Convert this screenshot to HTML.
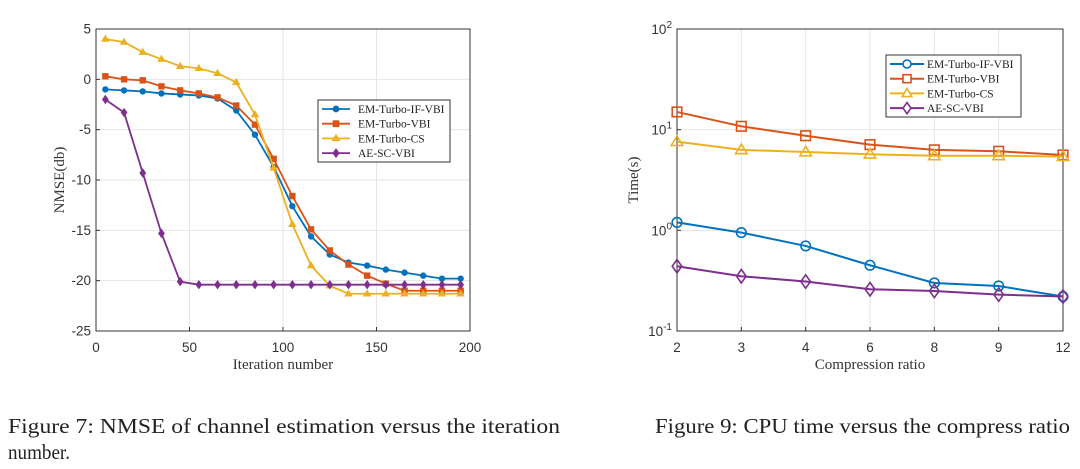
<!DOCTYPE html>
<html><head><meta charset="utf-8"><style>
html,body{margin:0;padding:0;background:#fff;}
svg{display:block;}
</style></head><body>
<svg id="root" width="1080" height="469" viewBox="0 0 1080 469" xmlns="http://www.w3.org/2000/svg">
<rect width="1080" height="469" fill="#fff"/>
<g id="left"></g>
<g id="right"></g>
<text x="8" y="433" font-family="Liberation Serif, serif" font-size="21" fill="#222" textLength="552" lengthAdjust="spacingAndGlyphs">Figure 7: NMSE of channel estimation versus the iteration</text>
<text x="8" y="459" font-family="Liberation Serif, serif" font-size="21" fill="#222" textLength="62" lengthAdjust="spacingAndGlyphs">number.</text>
<text x="655" y="433" font-family="Liberation Serif, serif" font-size="21" fill="#222" textLength="415" lengthAdjust="spacingAndGlyphs">Figure 9: CPU time versus the compress ratio</text>
</svg>
<script>
const iterX=[5,15,25,35,45,55,65,75,85,95,105,115,125,135,145,155,165,175,185,195];
const nmseIF=[-1,-1.1,-1.2,-1.4,-1.5,-1.6,-1.9,-3.1,-5.5,-8.7,-12.6,-15.6,-17.4,-18.2,-18.5,-18.9,-19.2,-19.5,-19.8,-19.8];
const nmseVBI=[0.3,0,-0.1,-0.7,-1.1,-1.4,-1.8,-2.6,-4.5,-7.9,-11.6,-14.9,-17,-18.4,-19.5,-20.3,-21,-21,-21,-21];
const nmseCS=[4,3.7,2.7,2,1.3,1.1,0.6,-0.3,-3.5,-8.8,-14.4,-18.5,-20.5,-21.3,-21.3,-21.3,-21.3,-21.3,-21.3,-21.3];
const nmseAE=[-2,-3.3,-9.3,-15.3,-20.1,-20.4,-20.4,-20.4,-20.4,-20.4,-20.4,-20.4,-20.4,-20.4,-20.4,-20.4,-20.4,-20.4,-20.4,-20.4];
const leftXTicks=[0,50,100,150,200];
const leftYTicks=[5,0,-5,-10,-15,-20,-25];
const ratioCats=["2","3","4","6","8","9","12"];
const timeIF=[1.2,0.95,0.7,0.45,0.3,0.28,0.22];
const timeVBI=[15,10.8,8.7,7.1,6.3,6.1,5.6];
const timeCS=[7.6,6.3,6.0,5.7,5.5,5.5,5.4];
const timeAE=[0.44,0.35,0.31,0.26,0.25,0.23,0.22];
const rightYTicks=[-1,0,1,2];
const seriesNames=["EM-Turbo-IF-VBI","EM-Turbo-VBI","EM-Turbo-CS","AE-SC-VBI"];
const colors=["#0072BD","#D95319","#EDB120","#7E2F8E"];

const NS="http://www.w3.org/2000/svg";
function mk(parent,tag,attrs){const e=document.createElementNS(NS,tag);for(const k in attrs)e.setAttribute(k,attrs[k]);parent.appendChild(e);return e;}
function marker(g,type,x,y,c,s,fillc){
  let e;
  if(type==="o") e=mk(g,"circle",{cx:x,cy:y,r:s,fill:fillc,stroke:c,"stroke-width":1.6});
  else if(type==="s") e=mk(g,"rect",{x:x-s,y:y-s,width:2*s,height:2*s,fill:fillc,stroke:c,"stroke-width":1.6});
  else if(type==="^") e=mk(g,"polygon",{points:`${x},${y-s*1.2} ${x-s*1.2},${y+s*0.8} ${x+s*1.2},${y+s*0.8}`,fill:fillc,stroke:c,"stroke-width":1.6});
  else e=mk(g,"polygon",{points:`${x},${y-s*1.4} ${x+s},${y} ${x},${y+s*1.4} ${x-s},${y}`,fill:fillc,stroke:c,"stroke-width":1.6});
  return e;
}
const types=["o","s","^","d"];

// LEFT
(function(){
  const g=document.getElementById("left");
  const L=96,R=470,T=29,B=331;
  const xs=v=>L+(v-0)/200*(R-L);
  const ys=v=>T+(5-v)/30*(B-T);
  mk(g,"rect",{x:L,y:T,width:R-L,height:B-T,fill:"#fff"});
  leftXTicks.forEach(t=>{const l=mk(g,"line",{x1:xs(t),x2:xs(t),y1:T,y2:B,stroke:"#e6e6e6"});
    const tx=mk(g,"text",{x:xs(t),y:352,"text-anchor":"middle","font-family":"Liberation Sans, sans-serif","font-size":13.5,fill:"#333"});tx.textContent=t;
    
    mk(g,"line",{x1:xs(t),x2:xs(t),y1:B,y2:B-4,stroke:"#333"});});
  leftYTicks.forEach(t=>{const l=mk(g,"line",{x1:L,x2:R,y1:ys(t),y2:ys(t),stroke:"#e6e6e6"});
    const tx=mk(g,"text",{x:L-5,y:ys(t)+4.5,"text-anchor":"end","font-family":"Liberation Sans, sans-serif","font-size":13.5,fill:"#333"});tx.textContent=t;
    
    mk(g,"line",{x1:L,x2:L+4,y1:ys(t),y2:ys(t),stroke:"#333"});});
  const ax=mk(g,"rect",{x:L,y:T,width:R-L,height:B-T,fill:"none",stroke:"#333","stroke-width":1});
  
  const xt=mk(g,"text",{x:(L+R)/2,y:369,"text-anchor":"middle","font-family":"Liberation Serif, serif","font-size":15,fill:"#333"});xt.textContent="Iteration number";
  
  const yt=mk(g,"text",{x:0,y:0,transform:`translate(64,${(T+B)/2}) rotate(-90)`,"text-anchor":"middle","font-family":"Liberation Serif, serif","font-size":15,fill:"#333"});yt.textContent="NMSE(db)";
  
  [nmseIF,nmseVBI,nmseCS,nmseAE].forEach((arr,i)=>{
    const sg=mk(g,"g",{});
    
    mk(sg,"polyline",{points:arr.map((v,j)=>xs(iterX[j])+","+ys(v)).join(" "),fill:"none",stroke:colors[i],"stroke-width":1.8});
    arr.forEach((v,j)=>{const m=marker(sg,types[i],xs(iterX[j]),ys(v),colors[i],2.4,colors[i]);});
  });
  const lg=mk(g,"g",{});
  mk(lg,"rect",{x:318,y:100,width:132,height:62,fill:"#fff",stroke:"#333"});
  seriesNames.forEach((n,i)=>{const y=109+i*14.7;
    const e=mk(lg,"g",{});
    mk(e,"line",{x1:322,x2:350,y1:y,y2:y,stroke:colors[i],"stroke-width":1.8});
    marker(e,types[i],336,y,colors[i],2.6,colors[i]);
    const t=mk(e,"text",{x:358,y:y+4,"font-family":"Liberation Serif, serif","font-size":11.5,fill:"#222"});t.textContent=n;});
})();

// RIGHT
(function(){
  const g=document.getElementById("right");
  const L=677,R=1063,T=29,B=331;
  const xs=i=>L+i/(ratioCats.length-1)*(R-L);
  const ys=v=>T+(2-Math.log10(v))/3*(B-T);
  mk(g,"rect",{x:L,y:T,width:R-L,height:B-T,fill:"#fff"});
  ratioCats.forEach((c,i)=>{const l=mk(g,"line",{x1:xs(i),x2:xs(i),y1:T,y2:B,stroke:"#e6e6e6"});
    const tx=mk(g,"text",{x:xs(i),y:352,"text-anchor":"middle","font-family":"Liberation Sans, sans-serif","font-size":13.5,fill:"#333"});tx.textContent=c;
    
    mk(g,"line",{x1:xs(i),x2:xs(i),y1:B,y2:B-4,stroke:"#333"});});
  rightYTicks.forEach(p=>{const y=ys(Math.pow(10,p));const l=mk(g,"line",{x1:L,x2:R,y1:y,y2:y,stroke:"#e6e6e6"});
    const tx=mk(g,"text",{x:L-5,y:y+5,"text-anchor":"end","font-family":"Liberation Sans, sans-serif","font-size":13.5,fill:"#333"});
    
    const a=mk(tx,"tspan",{});a.textContent="10";const b=mk(tx,"tspan",{dy:-6,"font-size":10});b.textContent=String(p);
    mk(g,"line",{x1:L,x2:L+4,y1:y,y2:y,stroke:"#333"});});
  const ax=mk(g,"rect",{x:L,y:T,width:R-L,height:B-T,fill:"none",stroke:"#333","stroke-width":1});
  
  const xt=mk(g,"text",{x:(L+R)/2,y:369,"text-anchor":"middle","font-family":"Liberation Serif, serif","font-size":15,fill:"#333"});xt.textContent="Compression ratio";
  
  const yt=mk(g,"text",{x:0,y:0,transform:`translate(638,${(T+B)/2}) rotate(-90)`,"text-anchor":"middle","font-family":"Liberation Serif, serif","font-size":15,fill:"#333"});yt.textContent="Time(s)";
  
  [timeIF,timeVBI,timeCS,timeAE].forEach((arr,i)=>{
    const sg=mk(g,"g",{});
    
    mk(sg,"polyline",{points:arr.map((v,j)=>xs(j)+","+ys(v)).join(" "),fill:"none",stroke:colors[i],"stroke-width":2});
    arr.forEach((v,j)=>{const m=marker(sg,types[i],xs(j),ys(v),colors[i],4.8,"none");});
  });
  const lg=mk(g,"g",{});
  mk(lg,"rect",{x:886,y:55,width:135,height:62,fill:"#fff",stroke:"#333"});
  seriesNames.forEach((n,i)=>{const y=64+i*14.7;
    const e=mk(lg,"g",{});
    mk(e,"line",{x1:890,x2:924,y1:y,y2:y,stroke:colors[i],"stroke-width":2});
    marker(e,types[i],907,y,colors[i],4,"#fff");
    const t=mk(e,"text",{x:927,y:y+4,"font-family":"Liberation Serif, serif","font-size":11.5,fill:"#222"});t.textContent=n;});
})();
</script>
</body></html>
